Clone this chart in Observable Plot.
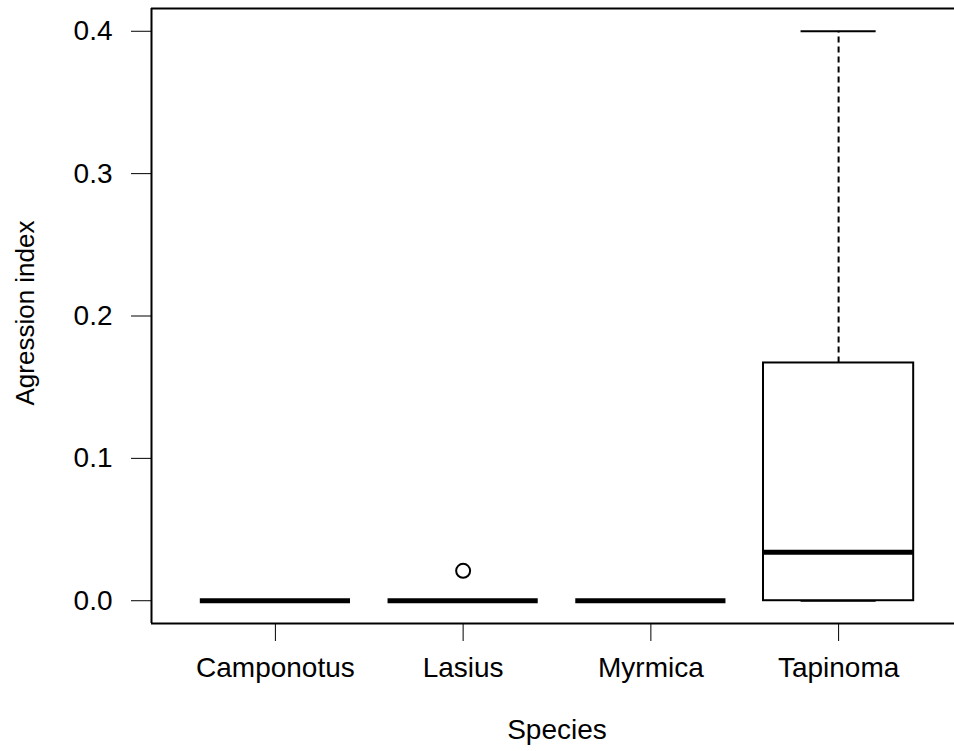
<!DOCTYPE html>
<html>
<head>
<meta charset="utf-8">
<script src="https://cdn.jsdelivr.net/npm/d3@7"></script>
<script src="https://cdn.jsdelivr.net/npm/@observablehq/plot@0.6"></script>
<style>
  html, body { margin: 0; padding: 0; background: white; }
</style>
</head>
<body>
<div id="chart"></div>
<script>
// Aggression index per ant genus: five-number summaries plus outliers
const species = ["Camponotus", "Lasius", "Myrmica", "Tapinoma"];
const lowerWhisker = [0, 0, 0, 0];
const q1 = [0, 0, 0, 0];
const median = [0, 0, 0, 0.034];
const q3 = [0, 0, 0, 0.167];
const upperWhisker = [0, 0, 0, 0.4];
const outlierSpecies = ["Lasius"];
const outlierValues = [0.021];
const yTicks = [0, 0.1, 0.2, 0.3, 0.4];

const boxes = species.map((s, i) => ({
  pos: i + 1,
  lo: lowerWhisker[i],
  q1: q1[i],
  med: median[i],
  q3: q3[i],
  hi: upperWhisker[i]
}));
const outliers = outlierSpecies.map((s, i) => ({pos: species.indexOf(s) + 1, value: outlierValues[i]}));

// R-style axis extents: 4% padding around the data range
const n = species.length;
const xDomain = [0.5 - 0.04 * n, n + 0.5 + 0.04 * n];
const yMin = 0, yMax = d3.max(upperWhisker);
const yPad = 0.04 * (yMax - yMin);
const yDomain = [yMin - yPad, yMax + yPad];
const half = 0.4;   // half box width
const staple = 0.2; // half whisker cap width

const chart = Plot.plot({
  width: 954,
  height: 751,
  marginTop: 8,
  marginBottom: 128,
  marginLeft: 151,
  marginRight: 0,
  style: {
    fontSize: "28px",
    fontFamily: "'Liberation Sans', Arial, Helvetica, sans-serif",
    background: "white",
    color: "black",
    overflow: "hidden"
  },
  x: {
    domain: xDomain,
    range: [151, 962],
    ticks: species.map((s, i) => i + 1),
    tickFormat: (d) => species[d - 1],
    tickSize: 18,
    tickPadding: 16,
    label: null
  },
  y: {
    domain: yDomain,
    ticks: yTicks,
    tickFormat: d3.format(".1f"),
    tickSize: 20,
    tickPadding: 19,
    label: null
  },
  marks: [
    // plot frame (left, bottom, top)
    Plot.ruleX([xDomain[0], xDomain[1]], {stroke: "black", strokeWidth: 2}),
    Plot.ruleY([yDomain[0], yDomain[1]], {x1: xDomain[0], x2: xDomain[1], stroke: "black", strokeWidth: 2}),
    // whiskers
    Plot.ruleX(boxes, {x: "pos", y1: "q3", y2: "hi", stroke: "black", strokeWidth: 2, strokeDasharray: "6,4"}),
    Plot.ruleX(boxes, {x: "pos", y1: "lo", y2: "q1", stroke: "black", strokeWidth: 2, strokeDasharray: "6,4"}),
    Plot.ruleY(boxes, {y: "hi", x1: (d) => d.pos - staple, x2: (d) => d.pos + staple, stroke: "black", strokeWidth: 2}),
    Plot.ruleY(boxes, {y: "lo", x1: (d) => d.pos - staple, x2: (d) => d.pos + staple, stroke: "black", strokeWidth: 2}),
    // boxes
    Plot.rect(boxes, {x1: (d) => d.pos - half, x2: (d) => d.pos + half, y1: "q1", y2: "q3", fill: "white", stroke: "black", strokeWidth: 2}),
    // medians
    Plot.ruleY(boxes, {y: "med", x1: (d) => d.pos - half, x2: (d) => d.pos + half, stroke: "black", strokeWidth: 5}),
    // outliers
    Plot.dot(outliers, {x: "pos", y: "value", r: 7, fill: "none", stroke: "black", strokeWidth: 2}),
    // axis titles
    Plot.text(["Species"], {x: () => (xDomain[0] + xDomain[1]) / 2, frameAnchor: "bottom", dy: 115, fontSize: 28, fill: "black"}),
    Plot.text(["Agression index"], {frameAnchor: "left", textAnchor: "middle", rotate: -90, dx: -126, dy: -3, fontSize: 26, fill: "black"})
  ]
});

document.getElementById("chart").appendChild(chart);
</script>
</body>
</html>
